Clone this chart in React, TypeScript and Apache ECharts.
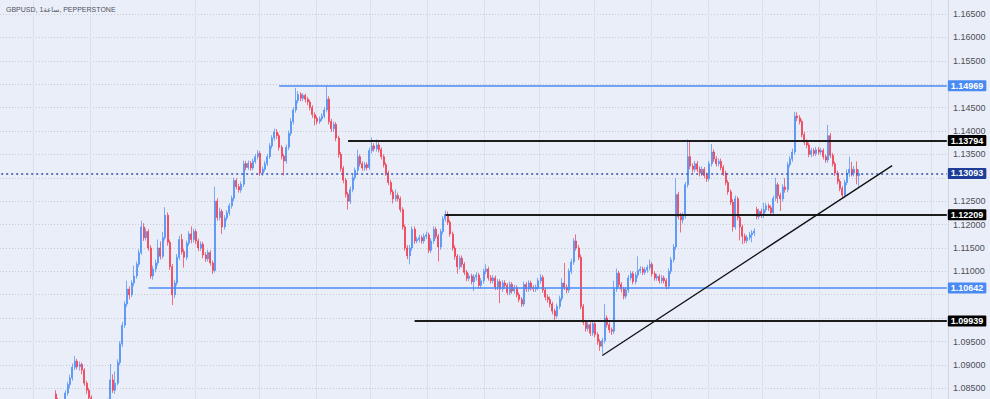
import React, { useEffect, useRef } from "react";
import * as echarts from "echarts";

// ---- data ----
const titleText = "GBPUSD, 1ساعة, PEPPERSTONE";
const categoryCount = 399;
const categories: string[] = Array.from({ length: categoryCount }, (_, i) => String(i));
const firstCandleIndex = 23;

// [open, close, low, high]
const candles: number[][] = [
  [1.0838,1.0822,1.0814,1.0846],[1.0822,1.0815,1.0806,1.0830],[1.0815,1.0808,1.0799,1.0821],[1.0808,1.0821,1.0803,1.0826],
  [1.0821,1.0840,1.0816,1.0846],[1.0840,1.0858,1.0834,1.0864],[1.0858,1.0872,1.0850,1.0879],[1.0872,1.0895,1.0866,1.0903],
  [1.0895,1.0908,1.0889,1.0919],[1.0908,1.0896,1.0890,1.0913],[1.0896,1.0901,1.0888,1.0907],[1.0901,1.0889,1.0880,1.0905],
  [1.0889,1.0861,1.0855,1.0893],[1.0861,1.0846,1.0838,1.0866],[1.0846,1.0830,1.0822,1.0851],[1.0830,1.0814,1.0806,1.0835],
  [1.0814,1.0800,1.0792,1.0818],[1.0800,1.0792,1.0784,1.0806],[1.0792,1.0805,1.0787,1.0810],[1.0805,1.0798,1.0790,1.0812],
  [1.0798,1.0810,1.0793,1.0815],[1.0810,1.0806,1.0799,1.0818],[1.0806,1.0822,1.0801,1.0828],[1.0822,1.0868,1.0817,1.0902],
  [1.0868,1.0846,1.0840,1.0880],[1.0846,1.0861,1.0838,1.0886],[1.0861,1.0905,1.0856,1.0912],[1.0905,1.0945,1.0899,1.0951],
  [1.0945,1.0985,1.0938,1.0992],[1.0985,1.1030,1.0979,1.1036],[1.1030,1.1062,1.1024,1.1080],[1.1062,1.1050,1.1040,1.1068],
  [1.1050,1.1075,1.1045,1.1081],[1.1075,1.1090,1.1068,1.1112],[1.1090,1.1115,1.1084,1.1121],[1.1115,1.1140,1.1109,1.1147],
  [1.1140,1.1195,1.1135,1.1208],[1.1195,1.1172,1.1165,1.1203],[1.1172,1.1185,1.1166,1.1192],[1.1185,1.1150,1.1144,1.1190],
  [1.1150,1.1090,1.1084,1.1156],[1.1090,1.1105,1.1082,1.1112],[1.1105,1.1118,1.1098,1.1125],[1.1118,1.1150,1.1112,1.1168],
  [1.1150,1.1132,1.1125,1.1164],[1.1132,1.1172,1.1127,1.1184],[1.1172,1.1220,1.1166,1.1237],[1.1220,1.1162,1.1155,1.1226],
  [1.1162,1.1110,1.1103,1.1168],[1.1110,1.1050,1.1028,1.1116],[1.1050,1.1075,1.1043,1.1082],[1.1075,1.1130,1.1069,1.1137],
  [1.1130,1.1168,1.1124,1.1176],[1.1168,1.1142,1.1136,1.1180],[1.1142,1.1130,1.1108,1.1148],[1.1130,1.1160,1.1124,1.1166],
  [1.1160,1.1180,1.1154,1.1186],[1.1180,1.1168,1.1160,1.1196],[1.1168,1.1185,1.1162,1.1191],[1.1185,1.1165,1.1158,1.1190],
  [1.1165,1.1150,1.1143,1.1170],[1.1150,1.1158,1.1144,1.1164],[1.1158,1.1135,1.1128,1.1163],[1.1135,1.1127,1.1120,1.1141],
  [1.1127,1.1140,1.1121,1.1146],[1.1140,1.1118,1.1112,1.1145],[1.1118,1.1102,1.1094,1.1123],[1.1102,1.1250,1.1097,1.1281],
  [1.1250,1.1215,1.1208,1.1256],[1.1215,1.1228,1.1209,1.1236],[1.1228,1.1195,1.1180,1.1233],[1.1195,1.1214,1.1189,1.1220],
  [1.1214,1.1225,1.1208,1.1231],[1.1225,1.1240,1.1219,1.1246],[1.1240,1.1256,1.1234,1.1262],[1.1256,1.1294,1.1250,1.1300],
  [1.1294,1.1281,1.1275,1.1299],[1.1281,1.1274,1.1268,1.1287],[1.1274,1.1286,1.1268,1.1292],[1.1286,1.1330,1.1280,1.1337],
  [1.1330,1.1322,1.1316,1.1336],[1.1322,1.1331,1.1317,1.1337],[1.1331,1.1321,1.1315,1.1336],[1.1321,1.1335,1.1316,1.1341],
  [1.1335,1.1345,1.1330,1.1351],[1.1345,1.1352,1.1339,1.1359],[1.1352,1.1310,1.1304,1.1357],[1.1310,1.1318,1.1304,1.1324],
  [1.1318,1.1330,1.1313,1.1336],[1.1330,1.1345,1.1325,1.1351],[1.1345,1.1368,1.1340,1.1374],[1.1368,1.1385,1.1362,1.1391],
  [1.1385,1.1398,1.1379,1.1405],[1.1398,1.1390,1.1383,1.1404],[1.1390,1.1365,1.1358,1.1395],[1.1365,1.1346,1.1339,1.1370],
  [1.1346,1.1336,1.1305,1.1351],[1.1336,1.1365,1.1330,1.1371],[1.1365,1.1395,1.1359,1.1401],[1.1395,1.1420,1.1389,1.1427],
  [1.1420,1.1445,1.1414,1.1451],[1.1445,1.1465,1.1439,1.1492],[1.1465,1.1478,1.1459,1.1485],[1.1478,1.1470,1.1463,1.1483],
  [1.1470,1.1476,1.1464,1.1481],[1.1476,1.1468,1.1461,1.1480],[1.1468,1.1462,1.1455,1.1473],[1.1462,1.1450,1.1444,1.1467],
  [1.1450,1.1435,1.1428,1.1455],[1.1435,1.1427,1.1412,1.1440],[1.1427,1.1420,1.1414,1.1432],[1.1420,1.1426,1.1415,1.1431],
  [1.1426,1.1432,1.1421,1.1438],[1.1432,1.1445,1.1427,1.1451],[1.1445,1.1468,1.1440,1.1497],[1.1468,1.1420,1.1414,1.1474],
  [1.1420,1.1405,1.1398,1.1426],[1.1405,1.1414,1.1398,1.1420],[1.1414,1.1385,1.1378,1.1419],[1.1385,1.1350,1.1343,1.1390],
  [1.1350,1.1320,1.1313,1.1355],[1.1320,1.1295,1.1288,1.1325],[1.1295,1.1265,1.1258,1.1300],[1.1265,1.1250,1.1232,1.1270],
  [1.1250,1.1275,1.1244,1.1281],[1.1275,1.1300,1.1269,1.1306],[1.1300,1.1316,1.1294,1.1322],[1.1316,1.1345,1.1310,1.1360],
  [1.1345,1.1330,1.1324,1.1350],[1.1330,1.1321,1.1315,1.1335],[1.1321,1.1328,1.1315,1.1334],[1.1328,1.1322,1.1316,1.1333],
  [1.1322,1.1358,1.1317,1.1364],[1.1358,1.1368,1.1352,1.1386],[1.1368,1.1362,1.1356,1.1374],[1.1362,1.1370,1.1356,1.1382],
  [1.1370,1.1360,1.1354,1.1376],[1.1360,1.1345,1.1339,1.1365],[1.1345,1.1328,1.1322,1.1350],[1.1328,1.1310,1.1304,1.1333],
  [1.1310,1.1290,1.1284,1.1315],[1.1290,1.1270,1.1264,1.1295],[1.1270,1.1255,1.1245,1.1275],[1.1255,1.1262,1.1249,1.1275],
  [1.1262,1.1255,1.1249,1.1268],[1.1255,1.1232,1.1226,1.1260],[1.1232,1.1195,1.1189,1.1237],[1.1195,1.1150,1.1144,1.1200],
  [1.1150,1.1133,1.1126,1.1156],[1.1133,1.1150,1.1115,1.1156],[1.1150,1.1190,1.1144,1.1196],[1.1190,1.1165,1.1159,1.1196],
  [1.1165,1.1168,1.1160,1.1174],[1.1168,1.1172,1.1162,1.1178],[1.1172,1.1165,1.1159,1.1177],[1.1165,1.1175,1.1159,1.1181],
  [1.1175,1.1178,1.1169,1.1185],[1.1178,1.1145,1.1139,1.1183],[1.1145,1.1165,1.1139,1.1171],[1.1165,1.1190,1.1159,1.1196],
  [1.1190,1.1175,1.1169,1.1195],[1.1175,1.1152,1.1121,1.1180],[1.1152,1.1185,1.1146,1.1191],[1.1185,1.1212,1.1179,1.1218],
  [1.1212,1.1222,1.1206,1.1230],[1.1222,1.1205,1.1199,1.1228],[1.1205,1.1180,1.1174,1.1210],[1.1180,1.1150,1.1144,1.1185],
  [1.1150,1.1132,1.1125,1.1156],[1.1132,1.1110,1.1095,1.1137],[1.1110,1.1128,1.1104,1.1134],[1.1128,1.1115,1.1108,1.1134],
  [1.1115,1.1098,1.1092,1.1120],[1.1098,1.1085,1.1079,1.1103],[1.1085,1.1090,1.1079,1.1096],[1.1090,1.1078,1.1072,1.1095],
  [1.1078,1.1088,1.1058,1.1094],[1.1088,1.1092,1.1080,1.1098],[1.1092,1.1070,1.1064,1.1097],[1.1070,1.1080,1.1064,1.1086],
  [1.1080,1.1100,1.1074,1.1106],[1.1100,1.1105,1.1094,1.1115],[1.1105,1.1086,1.1080,1.1110],[1.1086,1.1080,1.1074,1.1092],
  [1.1080,1.1086,1.1074,1.1092],[1.1086,1.1066,1.1060,1.1091],[1.1066,1.1078,1.1060,1.1084],[1.1078,1.1062,1.1032,1.1083],
  [1.1062,1.1075,1.1056,1.1081],[1.1075,1.1070,1.1063,1.1081],[1.1070,1.1055,1.1049,1.1075],[1.1055,1.1072,1.1049,1.1078],
  [1.1072,1.1058,1.1052,1.1077],[1.1058,1.1065,1.1052,1.1071],[1.1065,1.1050,1.1044,1.1070],[1.1050,1.1040,1.1034,1.1055],
  [1.1040,1.1030,1.1024,1.1045],[1.1030,1.1072,1.1025,1.1078],[1.1072,1.1062,1.1056,1.1077],[1.1062,1.1075,1.1056,1.1081],
  [1.1075,1.1065,1.1059,1.1080],[1.1065,1.1062,1.1056,1.1070],[1.1062,1.1066,1.1056,1.1072],[1.1066,1.1080,1.1060,1.1086],
  [1.1080,1.1087,1.1074,1.1094],[1.1087,1.1060,1.1054,1.1092],[1.1060,1.1045,1.1038,1.1065],[1.1045,1.1040,1.1033,1.1051],
  [1.1040,1.1030,1.1023,1.1046],[1.1030,1.1015,1.1008,1.1035],[1.1015,1.1005,1.0996,1.1020],[1.1005,1.1025,1.0999,1.1031],
  [1.1025,1.1042,1.1019,1.1048],[1.1042,1.1075,1.1036,1.1085],[1.1075,1.1066,1.1060,1.1118],[1.1066,1.1060,1.1053,1.1072],
  [1.1060,1.1100,1.1054,1.1106],[1.1100,1.1120,1.1094,1.1127],[1.1120,1.1165,1.1114,1.1171],[1.1165,1.1150,1.1144,1.1179],
  [1.1150,1.1130,1.1124,1.1156],[1.1130,1.1025,1.1019,1.1136],[1.1025,1.0991,1.0985,1.1030],[1.0991,1.0978,1.0971,1.0996],
  [1.0978,1.0986,1.0972,1.0992],[1.0986,1.0968,1.0962,1.0991],[1.0968,1.0988,1.0962,1.0994],[1.0988,1.0965,1.0959,1.0993],
  [1.0965,1.0950,1.0943,1.0970],[1.0950,1.0940,1.0930,1.0955],[1.0940,1.0952,1.0924,1.0958],[1.0952,1.1000,1.0946,1.1030],
  [1.1000,1.0986,1.0980,1.1006],[1.0986,1.0975,1.0968,1.0991],[1.0975,1.0972,1.0964,1.0980],[1.0972,1.1062,1.0966,1.1080],
  [1.1062,1.1096,1.1056,1.1106],[1.1096,1.1072,1.1066,1.1101],[1.1072,1.1062,1.1055,1.1077],[1.1062,1.1047,1.1040,1.1067],
  [1.1047,1.1060,1.1041,1.1066],[1.1060,1.1086,1.1054,1.1092],[1.1086,1.1095,1.1080,1.1101],[1.1095,1.1078,1.1072,1.1100],
  [1.1078,1.1092,1.1072,1.1098],[1.1092,1.1102,1.1086,1.1132],[1.1102,1.1105,1.1096,1.1111],[1.1105,1.1098,1.1092,1.1110],
  [1.1098,1.1103,1.1092,1.1109],[1.1103,1.1108,1.1097,1.1114],[1.1108,1.1115,1.1102,1.1125],[1.1115,1.1095,1.1089,1.1120],
  [1.1095,1.1086,1.1080,1.1100],[1.1086,1.1089,1.1080,1.1095],[1.1089,1.1080,1.1074,1.1094],[1.1080,1.1086,1.1074,1.1092],
  [1.1086,1.1080,1.1074,1.1091],[1.1080,1.1068,1.1061,1.1085],[1.1068,1.1100,1.1062,1.1106],[1.1100,1.1125,1.1094,1.1131],
  [1.1125,1.1152,1.1119,1.1158],[1.1152,1.1264,1.1146,1.1300],[1.1264,1.1217,1.1211,1.1270],[1.1217,1.1210,1.1183,1.1225],
  [1.1210,1.1218,1.1202,1.1226],[1.1218,1.1285,1.1212,1.1291],[1.1285,1.1345,1.1279,1.1382],[1.1345,1.1325,1.1318,1.1378],
  [1.1325,1.1318,1.1311,1.1331],[1.1318,1.1330,1.1312,1.1336],[1.1330,1.1318,1.1312,1.1336],[1.1318,1.1310,1.1303,1.1324],
  [1.1310,1.1318,1.1304,1.1324],[1.1318,1.1305,1.1299,1.1323],[1.1305,1.1298,1.1291,1.1311],[1.1298,1.1330,1.1292,1.1336],
  [1.1330,1.1355,1.1324,1.1372],[1.1355,1.1340,1.1334,1.1361],[1.1340,1.1330,1.1324,1.1346],[1.1330,1.1335,1.1324,1.1341],
  [1.1335,1.1322,1.1316,1.1341],[1.1322,1.1310,1.1304,1.1327],[1.1310,1.1290,1.1284,1.1315],[1.1290,1.1270,1.1264,1.1295],
  [1.1270,1.1248,1.1242,1.1275],[1.1248,1.1195,1.1185,1.1254],[1.1195,1.1255,1.1189,1.1262],[1.1255,1.1215,1.1209,1.1260],
  [1.1215,1.1195,1.1166,1.1221],[1.1195,1.1175,1.1158,1.1200],[1.1175,1.1166,1.1160,1.1181],[1.1166,1.1172,1.1160,1.1178],
  [1.1172,1.1178,1.1166,1.1184],[1.1178,1.1182,1.1162,1.1188],[1.1182,1.1186,1.1175,1.1192],[1.1232,1.1217,1.1211,1.1238],
  [1.1217,1.1228,1.1211,1.1234],[1.1228,1.1220,1.1214,1.1234],[1.1220,1.1232,1.1214,1.1247],[1.1232,1.1240,1.1226,1.1246],
  [1.1240,1.1236,1.1229,1.1245],[1.1236,1.1225,1.1218,1.1241],[1.1225,1.1256,1.1219,1.1262],[1.1256,1.1285,1.1250,1.1300],
  [1.1285,1.1262,1.1246,1.1290],[1.1262,1.1255,1.1229,1.1268],[1.1255,1.1280,1.1249,1.1286],[1.1280,1.1275,1.1268,1.1299],
  [1.1275,1.1328,1.1269,1.1334],[1.1328,1.1340,1.1322,1.1346],[1.1340,1.1355,1.1334,1.1362],[1.1355,1.1432,1.1349,1.1441],
  [1.1432,1.1428,1.1421,1.1440],[1.1428,1.1420,1.1414,1.1434],[1.1420,1.1392,1.1386,1.1425],[1.1392,1.1376,1.1370,1.1398],
  [1.1376,1.1370,1.1363,1.1382],[1.1370,1.1350,1.1344,1.1375],[1.1350,1.1358,1.1344,1.1364],[1.1358,1.1352,1.1346,1.1363],
  [1.1352,1.1360,1.1346,1.1366],[1.1360,1.1355,1.1349,1.1366],[1.1355,1.1358,1.1349,1.1364],[1.1358,1.1345,1.1339,1.1363],
  [1.1345,1.1338,1.1332,1.1350],[1.1338,1.1390,1.1332,1.1413],[1.1390,1.1348,1.1342,1.1396],[1.1348,1.1330,1.1324,1.1353],
  [1.1330,1.1310,1.1304,1.1335],[1.1310,1.1292,1.1286,1.1315],[1.1292,1.1277,1.1271,1.1297],[1.1277,1.1263,1.1257,1.1282],
  [1.1263,1.1290,1.1258,1.1296],[1.1290,1.1310,1.1284,1.1318],[1.1310,1.1318,1.1302,1.1345],[1.1318,1.1310,1.1303,1.1334],
  [1.1310,1.1318,1.1303,1.1325],[1.1318,1.1305,1.1286,1.1335],[1.1305,1.1309,1.1281,1.1318],
];

// horizontal levels drawn on the chart
const blueLevels = [1.14969, 1.10642];
const blueLevelStart = [117, 62];
const blackLevels = [1.13794, 1.12209, 1.09939];
const blackLevelStart = [146, 187, 174];
const lastPrice = 1.13093;
const trendStart: [number, number] = [253, 1.092];
const trendEnd: [number, number] = [375, 1.1326];
// vertical (day) grid line positions, as category indices
const dayLines = [14, 38, 82, 109, 133, 156, 180, 204, 227, 250, 274, 298, 321, 345, 369, 392];
// axis ticks hidden behind the price tags or outside the view
const hiddenTicks = ["1.17000", "1.15000", "1.13000", "1.10500", "1.10000", "1.08000"];

const yMin = 1.08;
const yMax = 1.17;
const yStep = 0.005;

const FONT = "'Liberation Sans', Arial, 'DejaVu Sans', sans-serif";
const UP = "#4a8cf5";
const DOWN = "#f0354a";
const BLUE_LINE = "#4a8af3";
const BLACK_LINE = "#1c1c1c";
const PRICE_LINE = "#2f4fa6";

export default function App() {
  const ref = useRef<HTMLDivElement>(null);

  useEffect(() => {
    if (!ref.current) return;
    const chart = echarts.init(ref.current, undefined, { renderer: "svg" });
    const last = categoryCount - 1;

    const seriesData = categories.map((_, i) => {
      const k = i - firstCandleIndex;
      return k >= 0 && k < candles.length ? candles[k] : "-";
    });

    const tag = (text: string, bg: string) => ({
      show: true,
      position: "end",
      distance: 1,
      formatter: text,
      color: "#ffffff",
      backgroundColor: bg,
      fontSize: 9,
      lineHeight: 10,
      fontWeight: "bold",
      fontFamily: FONT,
      padding: [1, 3, 0, 3],
      borderRadius: 1,
    });

    const lines: any[] = [];
    blueLevels.forEach((v, j) => {
      lines.push([
        { coord: [blueLevelStart[j], v], lineStyle: { color: BLUE_LINE, width: 1.6, type: "solid" }, label: tag(v.toFixed(5), BLUE_LINE) },
        { coord: [last, v] },
      ]);
    });
    blackLevels.forEach((v, j) => {
      lines.push([
        { coord: [blackLevelStart[j], v], lineStyle: { color: BLACK_LINE, width: 1.8, type: "solid" }, label: tag(v.toFixed(5), "#000000") },
        { coord: [last, v] },
      ]);
    });
    lines.push([
      { coord: [0, lastPrice], lineStyle: { color: PRICE_LINE, width: 1.5, type: [2, 3] }, label: tag(lastPrice.toFixed(5), "#1e3d98") },
      { coord: [last, lastPrice] },
    ]);
    lines.push([
      { coord: trendStart, lineStyle: { color: "#111111", width: 1.3, type: "solid" }, label: { show: false } },
      { coord: trendEnd },
    ]);

    chart.setOption({
      animation: false,
      backgroundColor: "#eaeef9",
      title: {
        text: titleText,
        left: 6,
        top: 6,
        padding: 0,
        textStyle: { fontSize: 7, fontWeight: "normal", color: "#50535c", fontFamily: FONT },
      },
      grid: { left: 0, right: 42, top: -9.4, bottom: -12.7, containLabel: false, outerBoundsMode: "none" },
      xAxis: {
        type: "category",
        data: categories,
        boundaryGap: true,
        axisLine: { show: false },
        axisTick: { show: false },
        axisLabel: { show: false },
        splitLine: {
          show: true,
          interval: (index: number) => dayLines.includes(index),
          lineStyle: { color: "#dce0ea", width: 1 },
        },
      },
      yAxis: {
        type: "value",
        position: "right",
        min: yMin,
        max: yMax,
        interval: yStep,
        axisLine: { show: true, lineStyle: { color: "#d2d5dd", width: 1 } },
        axisTick: { show: false },
        axisLabel: {
          margin: 5,
          fontSize: 9,
          color: "#4b4e57",
          fontFamily: FONT,
          formatter: (v: number) => {
            const s = v.toFixed(5);
            return hiddenTicks.includes(s) ? "" : s;
          },
        },
        splitLine: { show: true, lineStyle: { color: "#c6cad3", width: 1, type: [1, 2] } },
      },
      series: [
        {
          type: "candlestick",
          data: seriesData,
          barWidth: 1.5,
          itemStyle: {
            color: UP,
            color0: DOWN,
            borderColor: UP,
            borderColor0: DOWN,
            borderWidth: 0.7,
          },
          markLine: {
            symbol: ["none", "none"],
            silent: true,
            animation: false,
            data: lines,
          },
        },
      ],
    });

    return () => chart.dispose();
  }, []);

  return (
    <div
      ref={ref}
      style={{ position: "fixed", left: 0, top: 0, width: 990, height: 399 }}
    />
  );
}
